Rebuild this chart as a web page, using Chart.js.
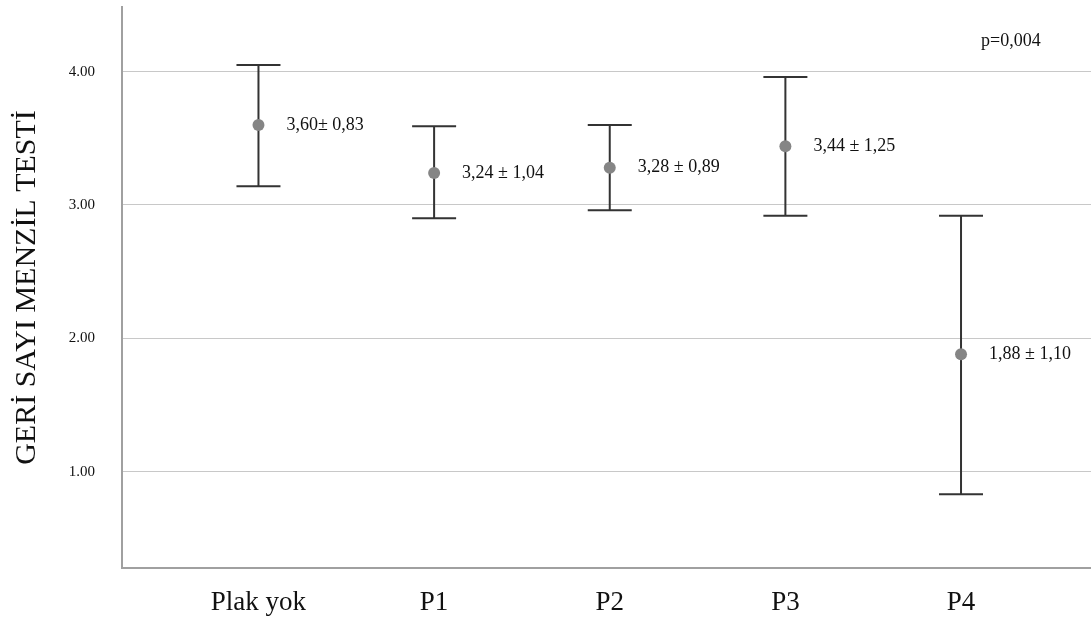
<!DOCTYPE html>
<html>
<head>
<meta charset="utf-8">
<script src="https://cdn.jsdelivr.net/npm/chart.js@4.4.0/dist/chart.umd.min.js"></script>
<style>
    body { margin: 0; background: #fff; }
    .box { width: 1091px; height: 621px; }
</style>
</head>
<body>
<div class="box"><canvas id="myChart"></canvas></div>
<script>
var groups = ['Plak yok', 'P1', 'P2', 'P3', 'P4'];
var means = [3.60, 3.24, 3.28, 3.44, 1.88];
var lower = [3.14, 2.90, 2.96, 2.92, 0.83];
var upper = [4.05, 3.59, 3.60, 3.96, 2.92];
var labels = ['3,60± 0,83', '3,24 ± 1,04', '3,28 ± 0,89', '3,44 ± 1,25', '1,88 ± 1,10'];
var yTicks = [1, 2, 3, 4];
var pText = 'p=0,004';

var serif = "'Liberation Serif', 'Times New Roman', serif";

// whiskers + value labels drawn through the chart scales
var errorBars = {
    id: 'errorBars',
    beforeDatasetsDraw: function (chart) {
        var ctx = chart.ctx;
        var xs = chart.scales.x, ys = chart.scales.y;
        ctx.save();
        ctx.strokeStyle = '#333';
        ctx.lineWidth = 2;
        for (var i = 0; i < groups.length; i++) {
            var x = xs.getPixelForValue(i);
            var t = ys.getPixelForValue(upper[i]);
            var b = ys.getPixelForValue(lower[i]);
            ctx.beginPath();
            ctx.moveTo(x, t); ctx.lineTo(x, b);
            ctx.moveTo(x - 22, t); ctx.lineTo(x + 22, t);
            ctx.moveTo(x - 22, b); ctx.lineTo(x + 22, b);
            ctx.stroke();
        }
        ctx.restore();
    },
    afterDatasetsDraw: function (chart) {
        var ctx = chart.ctx;
        var xs = chart.scales.x, ys = chart.scales.y;
        ctx.save();
        ctx.fillStyle = '#111';
        ctx.font = '18px ' + serif;
        ctx.textBaseline = 'middle';
        for (var i = 0; i < groups.length; i++) {
            ctx.fillText(labels[i], xs.getPixelForValue(i) + 28, ys.getPixelForValue(means[i]));
        }
        ctx.fillText(pText, chart.chartArea.right - 110, chart.chartArea.top + 34);
        ctx.restore();
    }
};

var ctx = document.getElementById('myChart').getContext('2d');
var myChart = new Chart(ctx, {
    type: 'scatter',
    data: {
        datasets: [{
            data: means.map(function (m, i) { return { x: i, y: m }; }),
            backgroundColor: '#858585',
            borderWidth: 0,
            pointRadius: 6,
            pointHoverRadius: 6
        }]
    },
    options: {
        responsive: true,
        maintainAspectRatio: false,
        animation: false,
        layout: { autoPadding: false, padding: { top: 7, right: 0, left: 0, bottom: 0 } },
        plugins: { legend: { display: false }, tooltip: { enabled: false } },
        scales: {
            x: {
                type: 'linear',
                min: -0.777,
                max: 4.74,
                afterBuildTicks: function (scale) {
                    scale.ticks = groups.map(function (g, i) { return { value: i }; });
                },
                afterFit: function (scale) {
                    scale.height = 53;
                    scale.paddingLeft = 0;
                    scale.paddingRight = 0;
                },
                grid: { drawOnChartArea: false, drawTicks: false },
                border: { display: true, color: '#a0a0a0', width: 2 },
                ticks: {
                    autoSkip: false,
                    maxRotation: 0,
                    padding: 19,
                    color: '#111',
                    font: { family: serif, size: 27 },
                    callback: function (v) { return groups[v]; }
                }
            },
            y: {
                min: 0.277,
                max: 4.485,
                afterBuildTicks: function (scale) {
                    scale.ticks = yTicks.map(function (v) { return { value: v }; });
                },
                afterFit: function (scale) {
                    scale.width = 122;
                    scale.paddingTop = 0;
                    scale.paddingBottom = 0;
                },
                grid: { color: '#c8c8c8', lineWidth: 1, drawTicks: false },
                border: { display: true, color: '#a0a0a0', width: 2 },
                ticks: {
                    padding: 27,
                    color: '#111',
                    font: { family: serif, size: 15 },
                    callback: function (v) { return v.toFixed(2); }
                },
                title: {
                    display: true,
                    text: 'GERİ SAYI MENZİL TESTİ',
                    color: '#111',
                    padding: { top: 9, bottom: 0 },
                    font: { family: serif, size: 30, weight: 'normal' }
                }
            }
        }
    },
    plugins: [errorBars]
});
</script>
</body>
</html>
